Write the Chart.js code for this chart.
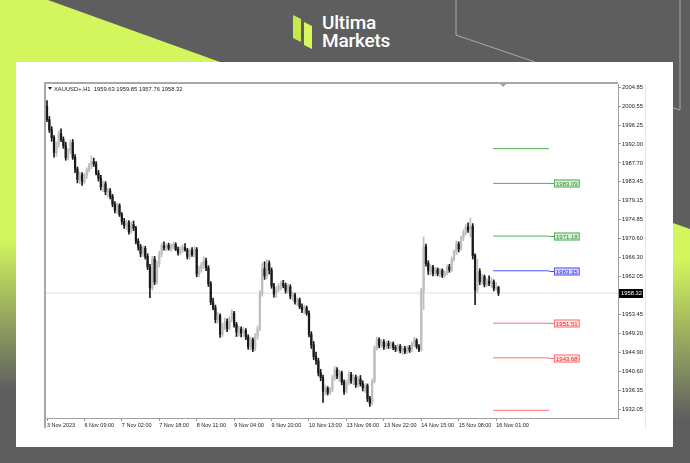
<!DOCTYPE html>
<html>
<head>
<meta charset="utf-8">
<script src="https://cdn.jsdelivr.net/npm/chart.js@4.4.1/dist/chart.umd.min.js"></script>
<style>
  html, body { margin: 0; padding: 0; }
  body { width: 690px; height: 463px; position: relative; overflow: hidden; background: #5e5e5e; }
  #deco { position: absolute; left: 0; top: 0; }
  .brand { position: absolute; left: 322px; color: #fff; font-family: Roboto, "Liberation Sans", sans-serif; font-weight: 500; font-size: 19px; letter-spacing: -0.2px; line-height: 19px; }
  #panel { position: absolute; left: 16px; top: 62px; width: 657px; height: 385px; background: #fff; }
  #c { position: absolute; left: 0; top: 0; }
</style>
</head>
<body>
<svg id="deco" width="690" height="463">
  <defs>
    <linearGradient id="gl" gradientUnits="userSpaceOnUse" x1="0" y1="62" x2="0" y2="463">
      <stop offset="0.44" stop-color="#d3f65f"/>
      <stop offset="0.82" stop-color="#5e5e5e"/>
    </linearGradient>
    <linearGradient id="gr" gradientUnits="userSpaceOnUse" x1="0" y1="223" x2="0" y2="463">
      <stop offset="0.15" stop-color="#d3f65f"/>
      <stop offset="0.82" stop-color="#5e5e5e"/>
    </linearGradient>
  </defs>
  <polygon points="0,0 48,0 220,62 0,62" fill="#d3f65f"/>
  <rect x="0" y="62" width="16" height="401" fill="url(#gl)"/>
  <polygon points="673,223 690,229 690,463 673,463" fill="url(#gr)"/>
  <polyline points="456,0 456,35 535,62" fill="none" stroke="#a9a9a9" stroke-width="1"/>
  <polyline points="660,104 680,110 680,0" fill="none" stroke="#a9a9a9" stroke-width="1"/>
  <polygon points="293,15 301,19 301,42 293,38" fill="#c6e94a"/>
  <polygon points="304,22 312,26 312,49 304,45" fill="#d8f65e"/>
</svg>
<div class="brand" style="top:13px">Ultima</div>
<div class="brand" style="top:31px">Markets</div>
<div id="panel"><canvas id="c" width="657" height="385"></canvas></div>
<script>
const symbolName = 'XAUUSD+';
const timeframe = 'H1';

const tickBars = [0, 16, 32, 48, 64, 80, 96, 112, 128, 144, 160, 176, 192];
const tickLabels = ['3 Nov 2023', '6 Nov 09:00', '7 Nov 02:00', '7 Nov 18:00', '8 Nov 11:00', '9 Nov 04:00',
  '9 Nov 20:00', '10 Nov 13:00', '13 Nov 06:00', '13 Nov 22:00', '14 Nov 15:00', '15 Nov 08:00', '16 Nov 01:00'];

const yTicks = [2004.85, 2000.55, 1996.25, 1992.00, 1987.70, 1983.45, 1979.15, 1974.85, 1970.60,
  1966.30, 1962.05, 1957.75, 1953.45, 1949.20, 1944.90, 1940.60, 1936.35, 1932.05];

// hourly candles, 3 Nov -> 16 Nov
const opens = [
  2000.5, 1997.5, 1995.2, 1993.4, 1990.0, 1991.9, 1994.3, 1993.0, 1991.6, 1988.9,
  1990.5, 1992.3, 1989.0, 1986.3, 1984.0, 1985.0, 1983.5, 1984.9, 1986.1, 1987.1,
  1988.0, 1987.5, 1985.4, 1984.2, 1982.3, 1983.0, 1981.2, 1981.4, 1980.2, 1978.4,
  1977.0, 1978.1, 1976.0, 1974.5, 1973.5, 1974.2, 1972.2, 1973.8, 1973.0, 1970.0,
  1968.7, 1967.2, 1968.4, 1966.6, 1964.2, 1959.5, 1966.0, 1960.8, 1965.0, 1967.2,
  1969.0, 1968.5, 1969.1, 1968.4, 1968.9, 1969.3, 1968.2, 1967.4, 1968.3, 1968.6,
  1968.0, 1966.5, 1967.9, 1967.0, 1968.2, 1962.6, 1963.8, 1964.7, 1965.6, 1964.0,
  1960.4, 1956.3, 1955.0, 1952.3, 1953.2, 1949.0, 1950.8, 1951.9, 1950.3, 1952.4,
  1953.8, 1951.2, 1949.5, 1950.2, 1949.3, 1949.9, 1948.4, 1946.2, 1947.8, 1945.7,
  1948.6, 1950.2, 1958.2, 1963.8, 1962.2, 1965.0, 1963.5, 1960.0, 1958.1, 1959.2,
  1959.9, 1960.5, 1960.0, 1958.9, 1959.7, 1957.6, 1957.9, 1956.3, 1956.8, 1955.2,
  1954.5, 1955.0, 1953.8, 1949.0, 1946.6, 1944.0, 1943.0, 1940.3, 1939.2, 1936.1,
  1936.8, 1935.8, 1936.5, 1939.2, 1941.0, 1939.6, 1940.3, 1938.2, 1936.1, 1938.1,
  1939.9, 1938.5, 1939.3, 1937.6, 1938.9, 1937.8, 1936.9, 1937.4, 1934.5, 1933.4,
  1938.4, 1946.0, 1947.8, 1946.5, 1947.3, 1946.2, 1946.9, 1946.4, 1946.9, 1946.0,
  1945.6, 1946.3, 1945.3, 1945.8, 1945.0, 1946.0, 1945.4, 1946.8, 1947.6, 1946.3,
  1945.5, 1958.8, 1968.8, 1965.0, 1963.3, 1964.2, 1962.8, 1963.6, 1962.7, 1963.4,
  1962.3, 1962.9, 1964.2, 1963.5, 1966.0, 1967.6, 1969.4, 1968.3, 1970.8, 1971.9,
  1973.2, 1972.6, 1973.4, 1966.8, 1959.0, 1963.2, 1960.9, 1962.0, 1960.2, 1961.0,
  1960.5, 1960.9, 1959.4, 1959.63
];
const highs = [
  2001.8, 1998.2, 1995.9, 1993.9, 1992.4, 1995.0, 1995.4, 1993.6, 1992.4, 1991.0,
  1992.9, 1993.0, 1989.6, 1986.8, 1985.6, 1985.5, 1985.4, 1986.6, 1987.6, 1989.3,
  1988.8, 1988.0, 1986.0, 1984.9, 1983.6, 1983.5, 1982.0, 1981.9, 1980.6, 1979.0,
  1978.7, 1978.5, 1976.5, 1975.2, 1974.8, 1974.7, 1974.4, 1974.6, 1973.4, 1970.6,
  1969.3, 1969.0, 1968.9, 1967.2, 1964.8, 1966.6, 1966.6, 1965.6, 1967.8, 1969.6,
  1969.9, 1969.5, 1969.6, 1969.4, 1969.8, 1969.7, 1968.7, 1968.8, 1969.2, 1969.5,
  1968.4, 1968.3, 1968.6, 1968.8, 1968.6, 1964.4, 1965.2, 1966.5, 1966.2, 1964.5,
  1960.9, 1957.2, 1955.6, 1953.9, 1953.6, 1951.5, 1952.6, 1952.5, 1953.0, 1954.6,
  1954.2, 1951.7, 1950.8, 1950.7, 1950.5, 1950.3, 1948.9, 1948.4, 1948.2, 1949.2,
  1950.9, 1958.8, 1965.0, 1965.4, 1965.9, 1965.6, 1964.0, 1960.5, 1959.7, 1960.4,
  1961.0, 1961.2, 1960.6, 1960.4, 1960.2, 1958.5, 1958.3, 1957.2, 1957.2, 1955.9,
  1955.6, 1955.4, 1954.3, 1949.6, 1947.4, 1945.0, 1943.6, 1941.1, 1939.8, 1937.4,
  1937.2, 1937.0, 1939.7, 1941.7, 1941.5, 1940.9, 1940.7, 1938.7, 1938.6, 1940.6,
  1940.4, 1939.9, 1939.8, 1939.5, 1939.7, 1938.5, 1937.9, 1937.8, 1935.0, 1938.9,
  1946.4, 1948.4, 1948.2, 1947.8, 1947.8, 1947.4, 1947.5, 1947.3, 1947.3, 1946.5,
  1946.8, 1946.7, 1946.2, 1946.3, 1946.4, 1946.5, 1947.2, 1948.3, 1948.0, 1946.7,
  1959.4, 1971.0, 1969.4, 1965.6, 1964.7, 1964.6, 1964.1, 1964.0, 1963.9, 1963.8,
  1963.3, 1964.7, 1964.8, 1966.5, 1968.0, 1970.1, 1969.9, 1971.2, 1972.6, 1973.8,
  1974.2, 1975.3, 1974.0, 1967.2, 1965.9, 1963.8, 1962.6, 1962.4, 1961.6, 1962.2,
  1961.8, 1961.3, 1960.7, 1959.85
];
const lows = [
  1997.0, 1994.6, 1992.6, 1989.0, 1989.2, 1991.2, 1992.5, 1991.0, 1988.3, 1988.4,
  1989.8, 1988.5, 1985.5, 1983.2, 1983.0, 1982.6, 1983.0, 1984.2, 1985.6, 1986.4,
  1986.9, 1985.0, 1983.6, 1981.6, 1981.2, 1980.5, 1980.0, 1979.6, 1977.8, 1976.4,
  1976.3, 1975.6, 1973.8, 1972.9, 1972.6, 1971.6, 1971.8, 1972.4, 1969.4, 1968.0,
  1966.5, 1966.6, 1966.0, 1963.6, 1957.3, 1959.0, 1960.2, 1960.3, 1964.2, 1966.5,
  1968.0, 1967.9, 1968.0, 1967.8, 1968.3, 1967.9, 1966.9, 1967.0, 1967.5, 1967.8,
  1966.0, 1966.0, 1966.6, 1966.4, 1962.0, 1962.0, 1963.0, 1963.9, 1963.4, 1959.8,
  1955.7, 1954.5, 1951.6, 1951.5, 1948.3, 1948.5, 1950.0, 1949.6, 1950.0, 1951.8,
  1950.6, 1948.5, 1948.6, 1948.4, 1948.5, 1947.8, 1945.6, 1945.5, 1945.1, 1945.3,
  1947.9, 1949.8, 1957.6, 1961.4, 1961.5, 1962.6, 1959.4, 1957.4, 1957.3, 1958.6,
  1959.0, 1959.5, 1958.3, 1958.3, 1957.0, 1956.6, 1955.8, 1955.5, 1954.8, 1953.9,
  1953.6, 1953.3, 1948.4, 1945.8, 1943.3, 1942.2, 1939.6, 1938.5, 1933.6, 1935.3,
  1935.3, 1935.4, 1936.0, 1938.6, 1939.0, 1938.4, 1937.6, 1935.4, 1935.7, 1937.6,
  1937.9, 1937.6, 1937.0, 1937.1, 1937.3, 1936.2, 1935.9, 1933.8, 1932.7, 1933.0,
  1938.0, 1945.4, 1945.9, 1946.0, 1945.6, 1945.7, 1945.8, 1945.8, 1945.5, 1945.1,
  1945.2, 1944.8, 1944.4, 1944.6, 1944.7, 1944.9, 1945.0, 1946.2, 1945.8, 1945.1,
  1945.2, 1954.6, 1964.4, 1962.5, 1962.4, 1962.2, 1962.3, 1962.2, 1962.0, 1961.8,
  1961.9, 1962.4, 1963.0, 1963.2, 1965.5, 1967.0, 1967.6, 1968.0, 1970.1, 1971.4,
  1972.0, 1971.0, 1966.0, 1955.7, 1958.4, 1960.2, 1960.3, 1959.7, 1959.8, 1960.0,
  1959.6, 1958.8, 1958.9, 1957.76
];
const closes = [
  1997.5, 1995.2, 1993.4, 1990.0, 1991.9, 1994.3, 1993.0, 1991.6, 1988.9, 1990.5,
  1992.3, 1989.0, 1986.3, 1984.0, 1985.0, 1983.5, 1984.9, 1986.1, 1987.1, 1988.0,
  1987.5, 1985.4, 1984.2, 1982.3, 1983.0, 1981.2, 1981.4, 1980.2, 1978.4, 1977.0,
  1978.1, 1976.0, 1974.5, 1973.5, 1974.2, 1972.2, 1973.8, 1973.0, 1970.0, 1968.7,
  1967.2, 1968.4, 1966.6, 1964.2, 1959.5, 1966.0, 1960.8, 1965.0, 1967.2, 1969.0,
  1968.5, 1969.1, 1968.4, 1968.9, 1969.3, 1968.2, 1967.4, 1968.3, 1968.6, 1968.0,
  1966.5, 1967.9, 1967.0, 1968.2, 1962.6, 1963.8, 1964.7, 1965.6, 1964.0, 1960.4,
  1956.3, 1955.0, 1952.3, 1953.2, 1949.0, 1950.8, 1951.9, 1950.3, 1952.4, 1953.8,
  1951.2, 1949.5, 1950.2, 1949.3, 1949.9, 1948.4, 1946.2, 1947.8, 1945.7, 1948.6,
  1950.2, 1958.2, 1963.8, 1962.2, 1965.0, 1963.5, 1960.0, 1958.1, 1959.2, 1959.9,
  1960.5, 1960.0, 1958.9, 1959.7, 1957.6, 1957.9, 1956.3, 1956.8, 1955.2, 1954.5,
  1955.0, 1953.8, 1949.0, 1946.6, 1944.0, 1943.0, 1940.3, 1939.2, 1936.1, 1936.8,
  1935.8, 1936.5, 1939.2, 1941.0, 1939.6, 1940.3, 1938.2, 1936.1, 1938.1, 1939.9,
  1938.5, 1939.3, 1937.6, 1938.9, 1937.8, 1936.9, 1937.4, 1934.5, 1933.4, 1938.4,
  1946.0, 1947.8, 1946.5, 1947.3, 1946.2, 1946.9, 1946.4, 1946.9, 1946.0, 1945.6,
  1946.3, 1945.3, 1945.8, 1945.0, 1946.0, 1945.4, 1946.8, 1947.6, 1946.3, 1945.5,
  1958.8, 1968.8, 1965.0, 1963.3, 1964.2, 1962.8, 1963.6, 1962.7, 1963.4, 1962.3,
  1962.9, 1964.2, 1963.5, 1966.0, 1967.6, 1969.4, 1968.3, 1970.8, 1971.9, 1973.2,
  1972.6, 1973.4, 1966.8, 1959.0, 1963.2, 1960.9, 1962.0, 1960.2, 1961.0, 1960.5,
  1960.9, 1959.4, 1959.6, 1958.32
];

// pivot levels (R3..S3) drawn right of the last bar
const levels = [1990.92, 1983.09, 1971.18, 1963.35, 1951.51, 1943.68, 1931.84];
const levelLabels = ['', '1983.09', '1971.18', '1963.35', '1951.51', '1943.68', ''];
const pivot = 1963.35;

// layout / style
const X_MIN = -0.43, X_MAX = 244.1;
const Y_MIN = 1930.1, Y_MAX = 2005.53;
const LV_FROM = 190.7, LV_TO = 214.6;
const UP = '#bdbdbd', DOWN = '#1a1a1a';
const FONT = '"Liberation Sans", Arial, sans-serif';

function levelStyle(v) {
  if (v > pivot) return { line: '#4caf50', fill: '#daf0da', text: '#2e8b2e' };
  if (v < pivot) return { line: '#ff7070', fill: '#ffe2e2', text: '#ee2020' };
  return { line: '#5050ff', fill: '#dcdcff', text: '#2020ee' };
}

const n = closes.length;
const last = n - 1;
const candleColors = closes.map((c, i) => (c >= opens[i] ? UP : DOWN));
const wickData = lows.map((l, i) => ({ x: i, y: [l, highs[i]] }));
const bodyData = opens.map((o, i) => ({ x: i, y: [Math.min(o, closes[i]), Math.max(o, closes[i])] }));

const levelSets = levels.map(v => ({
  type: 'line',
  data: [{ x: LV_FROM, y: v }, { x: LV_TO, y: v }],
  borderColor: levelStyle(v).line,
  borderWidth: 1,
  pointRadius: 0,
  order: 2
}));

const mt4Overlay = {
  id: 'mt4Overlay',
  afterDraw(chart) {
    const { ctx, chartArea: a, scales: { x, y } } = chart;
    ctx.save();
    // chart frame
    ctx.strokeStyle = '#a8a8a8';
    ctx.lineWidth = 2;
    ctx.beginPath();
    ctx.moveTo(a.left - 1, a.bottom + 10);
    ctx.lineTo(a.left - 1, a.top - 1);
    ctx.lineTo(a.right, a.top - 1);
    ctx.stroke();
    ctx.strokeStyle = '#e6e6e6';
    ctx.lineWidth = 1;
    ctx.beginPath();
    ctx.moveTo(a.right + 27.5, a.top);
    ctx.lineTo(a.right + 27.5, a.bottom + 10);
    ctx.stroke();

    // shift marker
    const sx = x.getPixelForValue(195);
    ctx.fillStyle = '#a0a0a0';
    ctx.beginPath();
    ctx.moveTo(sx - 3, a.top);
    ctx.lineTo(sx + 3, a.top);
    ctx.lineTo(sx, a.top + 3);
    ctx.fill();

    // header
    ctx.fillStyle = '#222';
    ctx.beginPath();
    ctx.moveTo(a.left + 2, a.top + 3);
    ctx.lineTo(a.left + 6, a.top + 3);
    ctx.lineTo(a.left + 4, a.top + 6);
    ctx.fill();
    ctx.font = '5.8px ' + FONT;
    ctx.textBaseline = 'middle';
    ctx.textAlign = 'left';
    const head = symbolName + ',' + timeframe + '  ' +
      [opens[last], highs[last], lows[last], closes[last]].map(v => v.toFixed(2)).join(' ');
    ctx.fillText(head, a.left + 8, a.top + 5);

    // level labels
    ctx.font = '6px ' + FONT;
    levels.forEach((v, i) => {
      if (!levelLabels[i]) return;
      const st = levelStyle(v);
      const yy = Math.round(y.getPixelForValue(v)) + 0.5;
      const x0 = x.getPixelForValue(LV_TO);
      ctx.strokeStyle = st.line;
      ctx.lineWidth = 1;
      ctx.beginPath();
      ctx.moveTo(x0, yy);
      ctx.lineTo(x0 + 5, yy);
      ctx.stroke();
      const w = ctx.measureText(levelLabels[i]).width + 4;
      ctx.fillStyle = st.fill;
      ctx.fillRect(x0 + 5, yy - 4, w, 8);
      ctx.strokeRect(x0 + 5.5, yy - 3.5, w - 1, 7);
      ctx.fillStyle = st.text;
      ctx.fillText(levelLabels[i], x0 + 7, yy + 0.5);
    });

    // current price box
    ctx.font = '5.8px ' + FONT;
    const py = Math.round(y.getPixelForValue(closes[last]));
    ctx.fillStyle = '#000';
    ctx.fillRect(a.right + 1, py - 4, 24, 9);
    ctx.fillStyle = '#fff';
    ctx.fillText(closes[last].toFixed(2), a.right + 3, py + 0.5);
    ctx.restore();
  }
};

new Chart(document.getElementById('c'), {
  type: 'bar',
  data: {
    datasets: [
      { data: wickData, backgroundColor: candleColors, barThickness: 1, grouped: false, order: 1 },
      { data: bodyData, backgroundColor: candleColors, barThickness: 1.6, minBarLength: 1, grouped: false, order: 0 },
      {
        type: 'line',
        data: [{ x: X_MIN, y: closes[last] }, { x: X_MAX, y: closes[last] }],
        borderColor: '#dedede', borderWidth: 1, pointRadius: 0, order: 10
      },
      ...levelSets
    ]
  },
  options: {
    responsive: false,
    devicePixelRatio: 1,
    animation: false,
    layout: { padding: { left: 30, top: 22, right: 28, bottom: 19 } },
    plugins: { legend: { display: false }, tooltip: { enabled: false } },
    scales: {
      x: {
        type: 'linear',
        min: X_MIN,
        max: X_MAX,
        offset: false,
        afterFit: s => { s.height = 10; },
        afterBuildTicks: s => { s.ticks = tickBars.map(v => ({ value: v })); },
        ticks: {
          autoSkip: false,
          maxRotation: 0,
          align: 'start',
          padding: 1,
          color: '#222',
          font: { family: FONT, size: 5.5 },
          callback: (v) => tickLabels[tickBars.indexOf(v)]
        },
        grid: { drawOnChartArea: false, offset: false, tickLength: 3, color: '#9a9a9a' },
        border: { color: '#a0a0a0' }
      },
      y: {
        position: 'right',
        min: Y_MIN,
        max: Y_MAX,
        afterFit: s => { s.width = 27; },
        afterBuildTicks: s => { s.ticks = yTicks.map(v => ({ value: v })); },
        ticks: {
          padding: 1,
          color: '#222',
          font: { family: FONT, size: 5.8 },
          callback: v => v.toFixed(2)
        },
        grid: { drawOnChartArea: false, tickLength: 3, color: '#9a9a9a' },
        border: { color: '#a0a0a0' }
      }
    }
  },
  plugins: [mt4Overlay]
});
</script>
</body>
</html>
